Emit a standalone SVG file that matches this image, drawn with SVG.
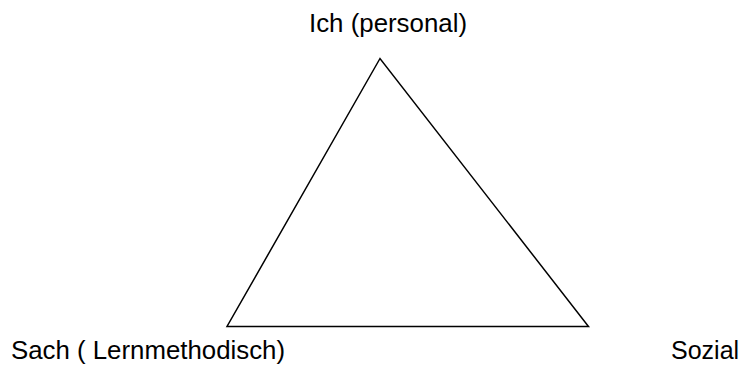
<svg xmlns="http://www.w3.org/2000/svg" width="742" height="365" viewBox="0 0 742 365">
<style>
.lbl{font-family:"Liberation Sans",Arial,sans-serif;font-size:25px;fill:#000}
.edge{fill:none;stroke:#000;stroke-width:1.5;stroke-linejoin:miter}
</style>
<rect width="742" height="365" fill="#fff"/>
<g id="connectors">
<polygon class="edge" points="380,58.5 227,326.5 588.5,326.5"/>
</g>
<g id="node-ich"><text class="lbl" x="309" y="31.5" textLength="158" lengthAdjust="spacingAndGlyphs">Ich (personal)</text></g>
<g id="node-sach"><text class="lbl" x="11" y="358.5" textLength="274" lengthAdjust="spacingAndGlyphs">Sach ( Lernmethodisch)</text></g>
<g id="node-sozial"><text class="lbl" x="671" y="358.5">Sozial</text></g>
</svg>
